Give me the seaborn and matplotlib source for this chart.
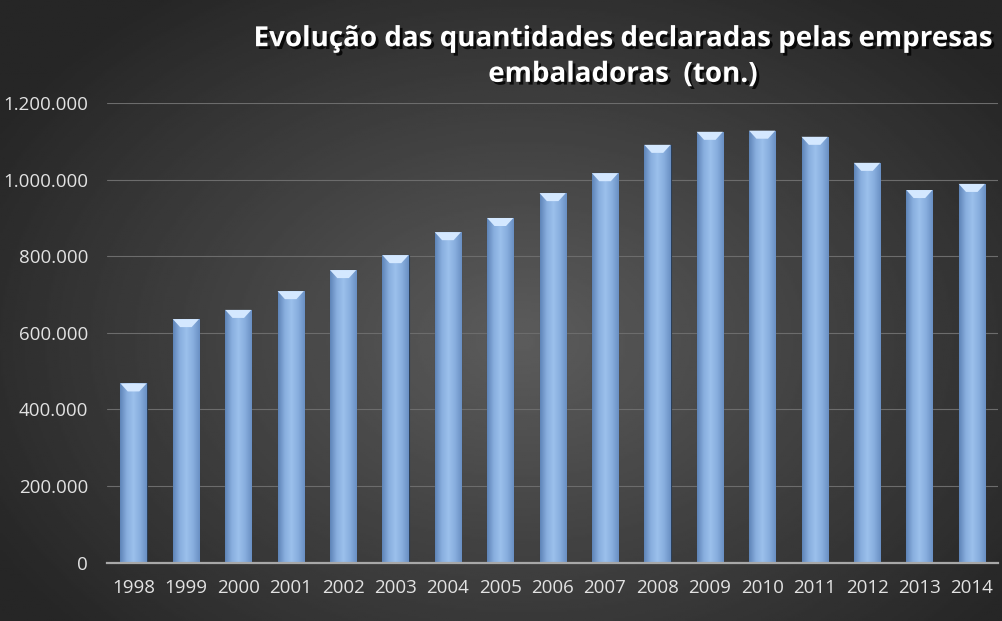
import numpy as np
import pandas as pd
import matplotlib
matplotlib.use("Agg")
import matplotlib.pyplot as plt
import matplotlib.patheffects as pe
from matplotlib.colors import LinearSegmentedColormap
from matplotlib.patches import Polygon
from matplotlib.ticker import FuncFormatter, MultipleLocator
import seaborn as sns

years = ["1998", "1999", "2000", "2001", "2002", "2003", "2004", "2005", "2006",
         "2007", "2008", "2009", "2010", "2011", "2012", "2013", "2014"]
tons = [468000, 636000, 660000, 709000, 764000, 803000, 863000, 900000, 965000,
        1017000, 1091000, 1125000, 1128000, 1112000, 1044000, 973000, 989000]

df = pd.DataFrame({"ano": years, "ton": tons})

sns.set_theme(style="dark")
plt.rcParams["font.family"] = ["Open Sans", "DejaVu Sans"]

fig = plt.figure(figsize=(10.03, 6.21), dpi=100)

# radial gradient background
bg = fig.add_axes([0, 0, 1, 1], zorder=0)
yy, xx = np.mgrid[0:1:300j, 0:1:500j]
r = np.sqrt(((xx - 0.52) / 0.75) ** 2 + ((yy - 0.55) / 0.85) ** 2)
shade = np.clip(0.36 - 0.26 * r, 0.15, 0.36)
bg.imshow(shade, cmap="gray", vmin=0, vmax=1, aspect="auto", extent=[0, 1, 0, 1])
bg.axis("off")

ax = fig.add_axes([0.107, 0.094, 0.888, 0.740], zorder=1)
ax.set_facecolor("none")

sns.barplot(data=df, x="ano", y="ton", color="#8db3e2", width=0.5, ax=ax,
            saturation=1, zorder=3)

bar_cmap = LinearSegmentedColormap.from_list(
    "bar", ["#5f84b8", "#88aede", "#9cc0ec", "#88aede", "#6a90c4"])
grad = np.linspace(0, 1, 64).reshape(1, -1)
cap_h = 21000
for p in ax.patches:
    x0, w, h = p.get_x(), p.get_width(), p.get_height()
    im = ax.imshow(grad, cmap=bar_cmap, aspect="auto", zorder=4,
                   extent=[x0, x0 + w, 0, h])
    im.set_clip_path(p)
    ins = w * 0.28
    cap = Polygon([(x0, h), (x0 + w, h), (x0 + w - ins, h - cap_h), (x0 + ins, h - cap_h)],
                  closed=True, facecolor="#d4e8ff", edgecolor="none", zorder=5)
    ax.add_patch(cap)
    p.set_edgecolor("#2c3e55")
    p.set_linewidth(0.8)

ax.set_xlim(-0.5, len(years) - 0.5)
ax.set_ylim(0, 1200000)
ax.yaxis.set_major_locator(MultipleLocator(200000))
ax.yaxis.set_major_formatter(
    FuncFormatter(lambda v, _: f"{int(v):,}".replace(",", ".")))
ax.grid(axis="y", color="#6c6c6c", linewidth=0.8, zorder=0)
ax.grid(axis="x", visible=False)
ax.set_axisbelow(True)
for s in ["top", "right", "left"]:
    ax.spines[s].set_visible(False)
ax.spines["bottom"].set_color("#a8a8a8")
ax.spines["bottom"].set_linewidth(1.6)
ax.spines["bottom"].set_zorder(6)
ax.tick_params(axis="both", colors="#e2e2e2", labelsize=13.5, length=0)
ax.tick_params(axis="y", pad=14)
ax.tick_params(axis="x", pad=12)
ax.set_xlabel("")
ax.set_ylabel("")

fig.text(0.621, 0.909, "Evolução das quantidades declaradas pelas empresas\nembaladoras  (ton.)",
         ha="center", va="center", color="white", fontsize=20, fontweight="bold",
         linespacing=1.3, zorder=10,
         path_effects=[pe.withSimplePatchShadow(offset=(2, -2), shadow_rgbFace="black", alpha=0.8)])

fig.savefig("out.png", dpi=100)
